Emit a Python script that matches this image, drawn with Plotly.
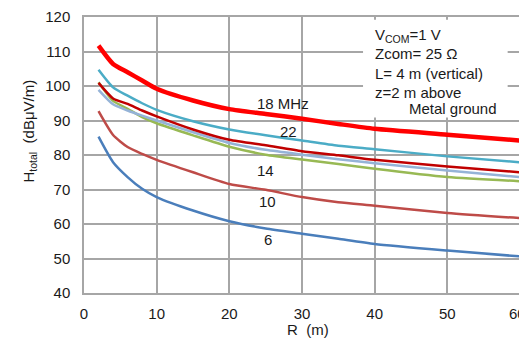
import plotly.graph_objects as go

R = [2, 4, 6, 8, 10, 15, 20, 25, 30, 35, 40, 50, 60]
h18 = [111.7, 106.4, 104.0, 101.6, 99.2, 95.8, 93.3, 91.9, 90.5, 89.0, 87.6, 85.9, 84.2]
h22 = [104.7, 99.6, 97.2, 95.0, 93.1, 89.8, 87.4, 85.7, 84.2, 82.7, 81.7, 79.6, 77.9]
h_dr = [100.9, 96.4, 94.8, 92.9, 91.2, 87.4, 84.4, 82.8, 81.1, 79.9, 78.6, 76.7, 75.0]
h_lav = [98.9, 94.7, 92.9, 91.4, 90.0, 86.6, 83.5, 81.5, 80.1, 78.8, 77.6, 75.5, 73.6]
h14 = [101.1, 95.7, 93.4, 91.0, 89.2, 85.7, 82.4, 80.1, 78.7, 77.4, 76.0, 73.6, 72.4]
h10 = [92.7, 85.8, 82.3, 80.3, 78.6, 75.0, 71.6, 69.9, 67.8, 66.3, 65.3, 63.2, 61.7]
h6 = [85.3, 77.9, 73.6, 70.2, 67.8, 63.9, 60.8, 58.7, 57.2, 55.7, 54.2, 52.3, 50.6]

series = [
    (h6, "#4a7ebb", 2.5),
    (h10, "#be4b48", 2.5),
    (h14, "#98b954", 2.5),
    (h_lav, "#95b3d7", 2.5),
    (h_dr, "#c00000", 2.5),
    (h22, "#4bacc6", 2.5),
    (h18, "#ff0000", 4.5),
]

x_ticks = [0, 10, 20, 30, 40, 50, 60]
x_ticktext = ["0", "10", "20", "30", "40", "50", ""]  # "60" drawn as annotation (edge)
y_ticks = [40, 50, 60, 70, 80, 90, 100, 110, 120]

curve_labels = [("18 MHz", 23.5, 95.0, "left"), ("22", 28.1, 86.9, "center"),
                ("14", 25.0, 75.5, "center"), ("10", 25.2, 66.5, "center"),
                ("6", 25.3, 55.5, "center")]

box_lines = [
    ("V<sub>COM</sub>=1 V", 39.8, 114.6),
    ("Zcom= 25 Ω", 39.8, 109.3),
    ("L= 4 m (vertical)", 39.8, 103.5),
    ("z=2 m above", 39.8, 98.0),
    ("Metal ground", 44.5, 93.4),
]

fig = go.Figure()
for ys, col, w in series:
    fig.add_trace(go.Scatter(x=R, y=ys, mode="lines",
                             line=dict(color=col, width=w, shape="spline", smoothing=0.6),
                             showlegend=False, hoverinfo="skip"))

font = dict(family="Liberation Sans, Arial, sans-serif", size=15, color="#1a1a1a")

# page body has an 8px default margin; size/offset the figure to compensate
fig.update_layout(
    width=519, height=335,
    margin=dict(l=76, r=7, t=9, b=50, autoexpand=False),
    paper_bgcolor="white", plot_bgcolor="white",
    font=font,
    xaxis=dict(range=[0, 60], tickvals=x_ticks, ticktext=x_ticktext, showgrid=True,
               gridcolor="#a6a6a6", gridwidth=1.5, showline=True, linecolor="#a6a6a6",
               linewidth=1.5, mirror=True, zeroline=False, ticks="", ticklen=0,
               tickfont=font, ticklabelstandoff=6, ticklabeloverflow="allow",
               automargin=False, fixedrange=True),
    yaxis=dict(range=[40, 120], tickvals=y_ticks, showgrid=True, gridcolor="#a6a6a6",
               gridwidth=1.5, showline=True, linecolor="#a6a6a6", linewidth=1.5,
               mirror=True, zeroline=False, ticks="", ticklen=0, tickfont=font,
               ticklabelstandoff=9, ticklabeloverflow="allow", automargin=False,
               fixedrange=True),
)

# white text box covering grid
fig.add_shape(type="rect", xref="x", yref="y", x0=38.4, x1=58.3, y0=90.9, y1=119.2,
              fillcolor="white", line=dict(width=0), layer="between")

for txt, xv, yv, anc in curve_labels:
    fig.add_annotation(x=xv, y=yv, text=txt, showarrow=False, font=font, xanchor=anc)

for txt, xv, yv in box_lines:
    fig.add_annotation(x=xv, y=yv, text=txt, showarrow=False, font=font,
                       xanchor="left", yanchor="middle")

# last x tick label, nudged left like the reference
fig.add_annotation(xref="paper", yref="paper", x=(507 - 84) / 436, y=(293 - 313) / 276,
                   text=str(x_ticks[-1]), showarrow=False, font=font,
                   xanchor="left", yanchor="middle")

fig.add_annotation(xref="paper", yref="paper", x=(308 - 84) / 436, y=(293 - 340) / 276,
                   text="R  (m)", showarrow=False, font=font)
fig.add_annotation(xref="paper", yref="paper", x=(18 - 84) / 436, y=(293 - 131) / 276,
                   text="H<sub>total</sub>  (dBμV/m)", textangle=-90, showarrow=False, font=font)

fig.write_html("out.html")
